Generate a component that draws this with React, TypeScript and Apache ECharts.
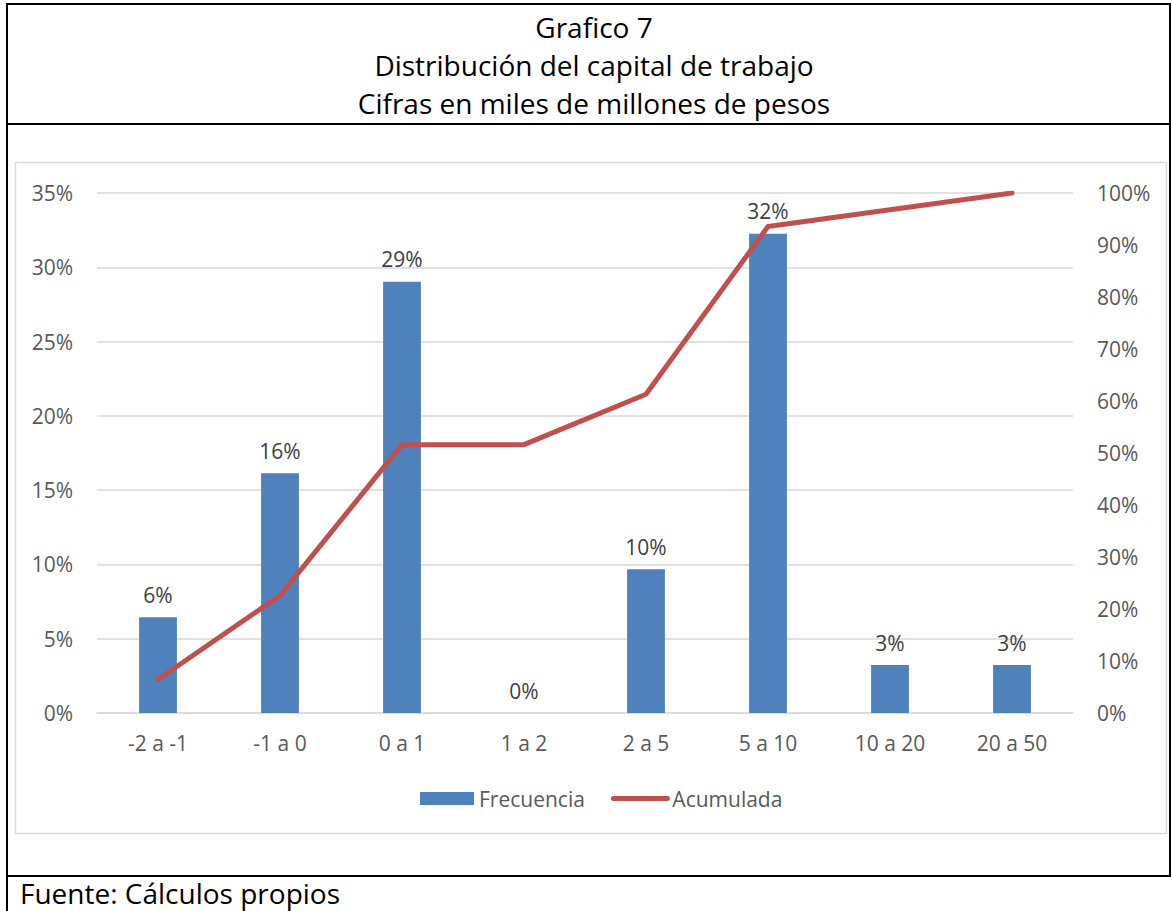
import React, { useEffect, useRef } from "react";
import * as echarts from "echarts";

const categories = ["-2 a -1", "-1 a 0", "0 a 1", "1 a 2", "2 a 5", "5 a 10", "10 a 20", "20 a 50"];
const frecuencia = [6.45, 16.13, 29.03, 0, 9.68, 32.26, 3.23, 3.23];
const acumulada = [6.45, 22.58, 51.61, 51.61, 61.29, 93.55, 96.77, 100];
const titleLines = ["Grafico 7", "Distribución del capital de trabajo", "Cifras en miles de millones de pesos"];
const footerText = "Fuente: Cálculos propios";

const FONT = "'Open Sans', 'Liberation Sans', sans-serif";
const LABEL_SIZE = 21;

export default function App() {
  const ref = useRef<HTMLDivElement>(null);
  useEffect(() => {
    if (!ref.current) return;
    const chart = echarts.init(ref.current, null, { renderer: "svg" });
    const black = "#000000";
    chart.setOption({
      animation: false,
      backgroundColor: "#ffffff",
      textStyle: { fontFamily: FONT },
      grid: { left: 97, right: 99, top: 193, bottom: 198, containLabel: false },
      legend: {
        left: 415,
        top: 783,
        itemWidth: 54,
        itemHeight: 13,
        itemGap: 26,
        textStyle: { color: "#595959", fontSize: LABEL_SIZE, fontFamily: FONT },
        data: [
          { name: "Frecuencia", icon: "rect" },
          {
            name: "Acumulada",
            itemStyle: { opacity: 0, color: "rgba(0,0,0,0)", borderWidth: 0 },
            lineStyle: { width: 5, cap: "round", color: "#C0504D" },
          },
        ],
      },
      xAxis: {
        type: "category",
        data: categories,
        boundaryGap: true,
        axisLine: { show: true, lineStyle: { color: "#D9D9D9", width: 1.5 } },
        axisTick: { show: false },
        axisLabel: { color: "#595959", fontSize: LABEL_SIZE, margin: 19, fontFamily: FONT },
      },
      yAxis: [
        {
          type: "value",
          min: 0,
          max: 35,
          interval: 5,
          axisLine: { show: false },
          axisTick: { show: false },
          splitLine: { lineStyle: { color: "#D9D9D9", width: 1.5 } },
          axisLabel: { color: "#595959", fontSize: LABEL_SIZE, margin: 24, formatter: "{value}%", fontFamily: FONT },
        },
        {
          type: "value",
          min: 0,
          max: 100,
          interval: 10,
          axisLine: { show: false },
          axisTick: { show: false },
          splitLine: { show: false },
          axisLabel: { color: "#595959", fontSize: LABEL_SIZE, margin: 24, formatter: "{value}%", fontFamily: FONT },
        },
      ],
      series: [
        {
          name: "Frecuencia",
          type: "bar",
          yAxisIndex: 0,
          data: frecuencia,
          barWidth: "31%",
          itemStyle: { color: "#4F81BD" },
          label: {
            show: true,
            position: "top",
            distance: 12,
            color: "#404040",
            fontSize: LABEL_SIZE,
            fontFamily: FONT,
            formatter: (p: any) => Math.round(p.value) + "%",
          },
        },
        {
          name: "Acumulada",
          type: "line",
          yAxisIndex: 1,
          data: acumulada,
          symbol: "none",
          lineStyle: { color: "#C0504D", width: 5, cap: "round", join: "round" },
          itemStyle: { color: "#C0504D" },
        },
      ],
      graphic: [
        // outer frame
        { type: "line", shape: { x1: 7, y1: 3, x2: 7, y2: 911 }, style: { stroke: black, lineWidth: 2 } },
        { type: "line", shape: { x1: 6, y1: 4, x2: 1171, y2: 4 }, style: { stroke: black, lineWidth: 2 } },
        { type: "line", shape: { x1: 1170, y1: 3, x2: 1170, y2: 877 }, style: { stroke: black, lineWidth: 2 } },
        { type: "line", shape: { x1: 6, y1: 124, x2: 1171, y2: 124 }, style: { stroke: black, lineWidth: 2 } },
        { type: "line", shape: { x1: 6, y1: 876, x2: 1171, y2: 876 }, style: { stroke: black, lineWidth: 2 } },
        // chart area box
        {
          type: "rect",
          shape: { x: 15.5, y: 162.5, width: 1151, height: 671 },
          style: { fill: "none", stroke: "#D9D9D9", lineWidth: 1.5 },
          z: -1,
        },
        ...titleLines.map((t, i) => ({
          type: "text",
          x: 594,
          y: 27 + i * 38,
          style: {
            text: t,
            fill: "#000000",
            font: `28px ${FONT}`,
            textAlign: "center",
            textVerticalAlign: "middle",
          },
        })),
        {
          type: "text",
          x: 20,
          y: 893,
          style: {
            text: footerText,
            fill: "#000000",
            font: `28px ${FONT}`,
            textAlign: "left",
            textVerticalAlign: "middle",
          },
        },
      ],
    });
    return () => chart.dispose();
  }, []);
  return (
    <div
      ref={ref}
      style={{ position: "absolute", left: 0, top: 0, width: 1172, height: 911, background: "#fff" }}
    />
  );
}
